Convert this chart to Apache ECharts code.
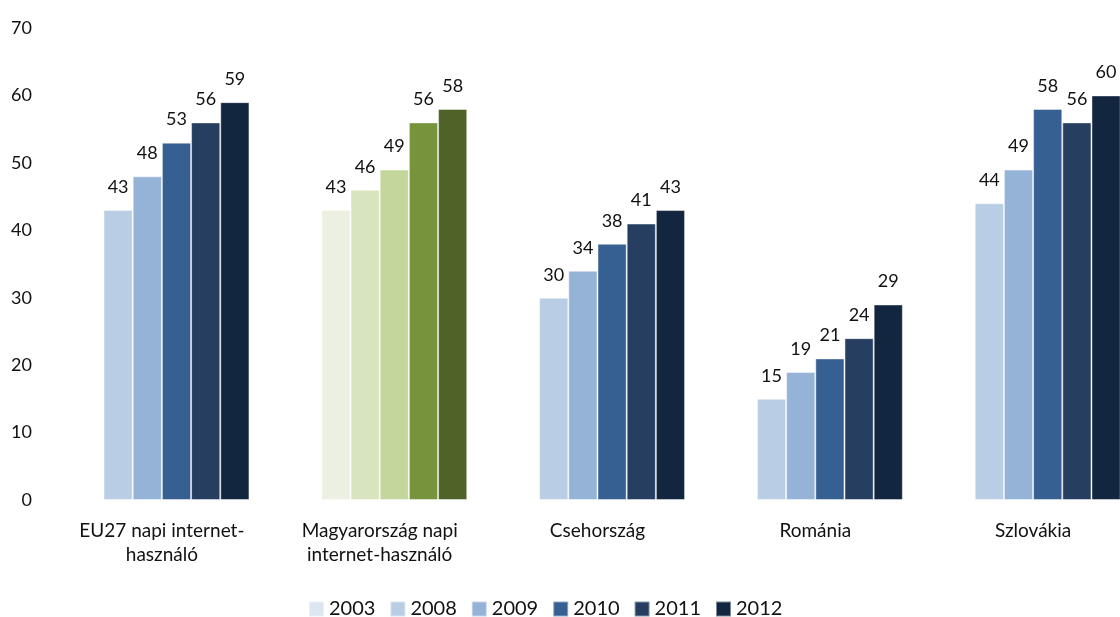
<!DOCTYPE html>
<html>
<head>
<meta charset="utf-8">
<script src="https://cdn.jsdelivr.net/npm/echarts@6/dist/echarts.min.js"></script>
<style>
  html, body { margin: 0; padding: 0; background: #fff; }
  #chart { width: 1120px; height: 617px; }
</style>
</head>
<body>
<div id="chart"></div>
<script>
// Daily internet users (%), by year
const categories = [
  'EU27 napi internet-\nhasználó',
  'Magyarország napi\ninternet-használó',
  'Csehország',
  'Románia',
  'Szlovákia'
];
const years = ['2003', '2008', '2009', '2010', '2011', '2012'];
const values2003 = [null, null, null, null, null];
const values2008 = [43, 43, 30, 15, 44];
const values2009 = [48, 46, 34, 19, 49];
const values2010 = [53, 49, 38, 21, 58];
const values2011 = [56, 56, 41, 24, 56];
const values2012 = [59, 58, 43, 29, 60];
const yTicks = { min: 0, max: 70, interval: 10 };

const seriesValues = [values2003, values2008, values2009, values2010, values2011, values2012];
const blues = ['#dce6f2', '#b9cde5', '#95b3d7', '#376092', '#263f60', '#13263f'];
// Hungary is highlighted with a green scale
const greens = ['#f0f4e6', '#ebf0e0', '#d8e4bd', '#c4d69b', '#77933c', '#4f6228'];
const highlightIndex = 1;

const font = 'Lato, "Noto Sans", sans-serif';

const series = years.map((y, si) => ({
  name: y,
  type: 'bar',
  barGap: '0%',
  barCategoryGap: '19.6%',
  itemStyle: { color: blues[si], borderColor: 'rgba(255,255,255,0.45)', borderWidth: 1 },
  label: {
    show: true,
    position: 'top',
    distance: 14,
    color: '#111',
    fontSize: 18,
    fontFamily: font
  },
  data: seriesValues[si].map((v, ci) => ci === highlightIndex && v != null
    ? { value: v, itemStyle: { color: greens[si] } }
    : v)
}));

const chart = echarts.init(document.getElementById('chart'), null, { renderer: 'canvas' });
chart.setOption({
  animation: false,
  textStyle: { fontFamily: font },
  // the last group runs past the right edge of the canvas
  grid: {
    left: 53, top: 28, right: -22, bottom: 117,
    containLabel: false,
    outerBoundsMode: 'none'
  },
  legend: {
    data: years,
    top: 594,
    left: 303,
    itemWidth: 15,
    itemHeight: 15,
    itemGap: 14,
    icon: 'rect',
    textStyle: { fontSize: 20, color: '#111', fontFamily: font }
  },
  xAxis: {
    type: 'category',
    data: categories,
    axisLine: { show: false },
    axisTick: { show: false },
    axisLabel: {
      interval: 0,
      margin: 19,
      fontSize: 19,
      lineHeight: 24,
      color: '#111',
      fontFamily: font
    }
  },
  yAxis: {
    type: 'value',
    min: yTicks.min,
    max: yTicks.max,
    interval: yTicks.interval,
    splitLine: { show: false },
    axisLine: { show: false },
    axisTick: { show: false },
    axisLabel: { fontSize: 18, color: '#111', margin: 21, fontFamily: font }
  },
  series: series
});
</script>
</body>
</html>
